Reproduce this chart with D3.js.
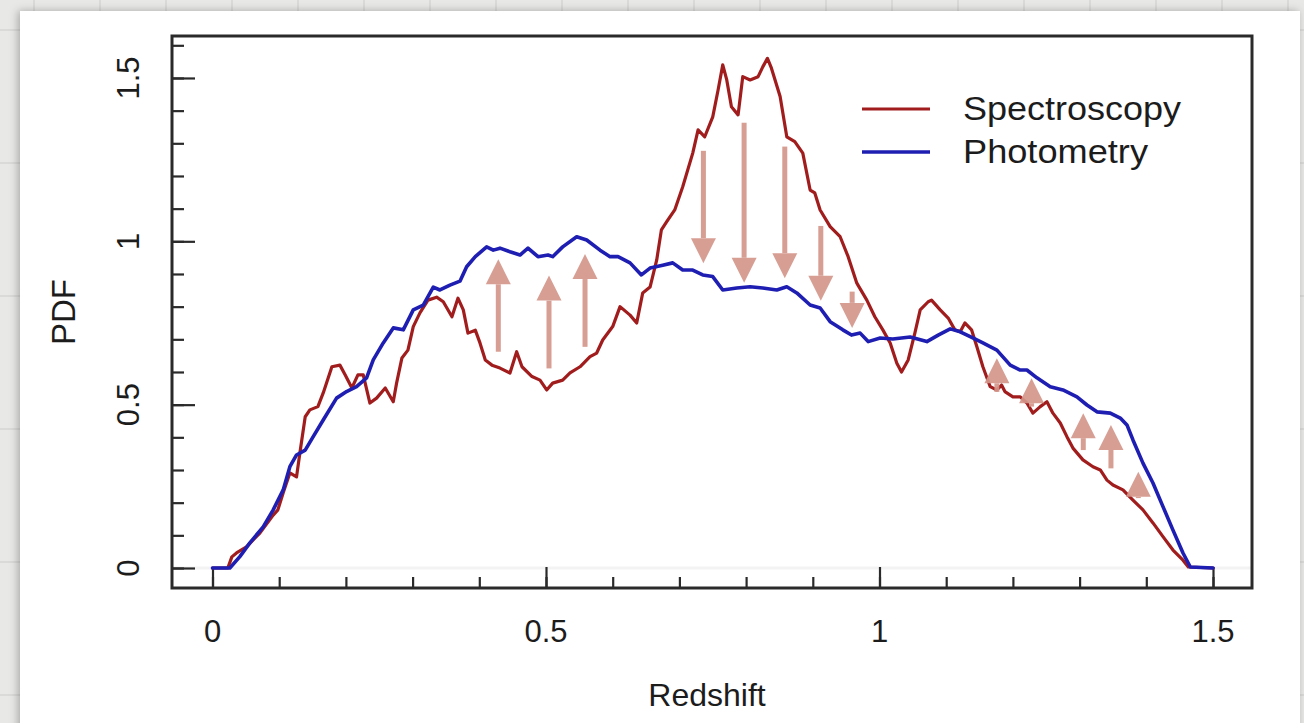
<!DOCTYPE html>
<html><head><meta charset="utf-8">
<script src="https://cdn.jsdelivr.net/npm/d3@7"></script>
<style>html,body{margin:0;padding:0;background:#e8e8e6;overflow:hidden}</style>
</head><body><svg id="c" width="1304" height="723"></svg>
<script>
// ---- data ----
const seriesNames = ["Spectroscopy", "Photometry"];
const seriesColors = ["#a11d1d", "#1e1eb2"];
const spectroscopy = [[0,0],[0.023,0],[0.029,0.034],[0.036,0.046],[0.051,0.065],[0.071,0.107],[0.091,0.162],[0.098,0.178],[0.106,0.230],[0.116,0.291],[0.126,0.279],[0.131,0.352],[0.139,0.463],[0.146,0.484],[0.158,0.494],[0.166,0.536],[0.179,0.616],[0.191,0.621],[0.199,0.591],[0.209,0.551],[0.218,0.591],[0.226,0.591],[0.236,0.505],[0.246,0.520],[0.259,0.551],[0.271,0.509],[0.276,0.566],[0.284,0.643],[0.293,0.667],[0.301,0.739],[0.311,0.781],[0.323,0.820],[0.336,0.829],[0.346,0.815],[0.359,0.769],[0.368,0.826],[0.376,0.790],[0.383,0.719],[0.394,0.728],[0.401,0.689],[0.409,0.637],[0.419,0.621],[0.431,0.612],[0.446,0.597],[0.456,0.662],[0.464,0.616],[0.479,0.586],[0.491,0.575],[0.501,0.545],[0.510,0.566],[0.525,0.575],[0.536,0.597],[0.551,0.616],[0.566,0.647],[0.576,0.658],[0.585,0.698],[0.600,0.739],[0.611,0.800],[0.626,0.774],[0.636,0.750],[0.645,0.842],[0.656,0.860],[0.666,0.943],[0.673,1.035],[0.681,1.060],[0.693,1.096],[0.705,1.167],[0.720,1.270],[0.728,1.341],[0.738,1.320],[0.750,1.381],[0.758,1.463],[0.765,1.540],[0.771,1.494],[0.778,1.412],[0.788,1.387],[0.795,1.504],[0.806,1.494],[0.818,1.504],[0.825,1.534],[0.832,1.560],[0.838,1.530],[0.851,1.443],[0.861,1.320],[0.873,1.305],[0.885,1.270],[0.896,1.157],[0.903,1.148],[0.911,1.096],[0.926,1.045],[0.941,1.014],[0.953,0.953],[0.966,0.872],[0.981,0.820],[0.993,0.769],[1.005,0.729],[1.016,0.689],[1.026,0.627],[1.033,0.600],[1.043,0.637],[1.053,0.719],[1.061,0.790],[1.073,0.815],[1.078,0.820],[1.091,0.790],[1.103,0.765],[1.113,0.729],[1.121,0.723],[1.128,0.750],[1.138,0.729],[1.146,0.677],[1.155,0.616],[1.166,0.555],[1.176,0.545],[1.183,0.560],[1.188,0.540],[1.200,0.524],[1.211,0.524],[1.221,0.505],[1.230,0.474],[1.241,0.494],[1.251,0.509],[1.260,0.474],[1.271,0.444],[1.281,0.402],[1.290,0.367],[1.305,0.331],[1.320,0.310],[1.331,0.300],[1.341,0.269],[1.350,0.254],[1.365,0.239],[1.380,0.208],[1.395,0.178],[1.410,0.138],[1.425,0.096],[1.440,0.055],[1.455,0.024],[1.463,0.003],[1.500,0]];
const photometry = [[0,0],[0.026,0],[0.041,0.035],[0.056,0.077],[0.076,0.126],[0.091,0.178],[0.106,0.239],[0.116,0.310],[0.126,0.346],[0.139,0.361],[0.151,0.402],[0.166,0.453],[0.186,0.520],[0.201,0.540],[0.216,0.555],[0.231,0.582],[0.241,0.637],[0.256,0.689],[0.271,0.735],[0.286,0.729],[0.301,0.790],[0.316,0.805],[0.331,0.860],[0.341,0.851],[0.356,0.866],[0.371,0.878],[0.381,0.922],[0.394,0.953],[0.411,0.983],[0.421,0.973],[0.431,0.979],[0.446,0.968],[0.461,0.958],[0.473,0.979],[0.488,0.953],[0.503,0.958],[0.510,0.953],[0.525,0.983],[0.546,1.014],[0.561,1.004],[0.581,0.973],[0.596,0.953],[0.608,0.953],[0.626,0.934],[0.643,0.897],[0.656,0.918],[0.675,0.927],[0.690,0.934],[0.705,0.912],[0.720,0.912],[0.735,0.897],[0.750,0.892],[0.765,0.851],[0.786,0.857],[0.806,0.861],[0.825,0.857],[0.846,0.851],[0.861,0.861],[0.876,0.842],[0.896,0.805],[0.911,0.796],[0.926,0.754],[0.945,0.729],[0.958,0.713],[0.971,0.719],[0.983,0.693],[1.001,0.704],[1.020,0.701],[1.046,0.707],[1.071,0.693],[1.088,0.713],[1.106,0.732],[1.121,0.723],[1.136,0.708],[1.155,0.689],[1.176,0.667],[1.196,0.621],[1.211,0.606],[1.221,0.606],[1.236,0.582],[1.256,0.555],[1.275,0.545],[1.296,0.524],[1.311,0.499],[1.326,0.478],[1.346,0.474],[1.361,0.459],[1.371,0.438],[1.380,0.392],[1.395,0.321],[1.410,0.260],[1.425,0.188],[1.440,0.116],[1.455,0.046],[1.466,0.003],[1.500,0]];
// annotation arrows: redshift, start PDF, end PDF
const arrowZ    = [0.4285, 0.5045, 0.5585, 0.736, 0.797, 0.858, 0.912, 0.959, 1.176, 1.228, 1.3055, 1.347, 1.388];
const arrowFrom = [0.662, 0.611, 0.677, 1.277, 1.363, 1.290, 1.047, 0.846, 0.539, 0.494, 0.361, 0.305, 0.214];
const arrowTo   = [0.945, 0.895, 0.961, 0.933, 0.873, 0.887, 0.818, 0.735, 0.642, 0.581, 0.474, 0.438, 0.295];
const xMajor = [0, 0.5, 1, 1.5];
const xMajorLabels = ["0", "0.5", "1", "1.5"];
const xMinor = [0,0.1,0.2,0.3,0.4,0.5,0.6,0.7,0.8,0.9,1.0,1.1,1.2,1.3,1.4,1.5];
const yMajor = [0, 0.5, 1, 1.5];
const yMajorLabels = ["0", "0.5", "1", "1.5"];
const yMinor = [0,0.1,0.2,0.3,0.4,0.5,0.6,0.7,0.8,0.9,1.0,1.1,1.2,1.3,1.4,1.5,1.6];

// ---- drawing ----
const svg = d3.select("#c");
const W = 1304, H = 723;
const FONT = "'Liberation Sans', Arial, Helvetica, sans-serif";
const TXT = "#1c1c1c";

// background paper grid
svg.append("rect").attr("width", W).attr("height", H).attr("fill", "#e8e8e6");
const bg = svg.append("g").attr("stroke", "#d6d6d3").attr("stroke-width", 1.5);
d3.range(34, W, 66).forEach(x => bg.append("line").attr("x1", x).attr("x2", x).attr("y1", 0).attr("y2", H));
d3.range(30, H, 133).forEach(y => bg.append("line").attr("x1", 0).attr("x2", W).attr("y1", y).attr("y2", y));

const defs = svg.append("defs");
const f = defs.append("filter").attr("id", "sh").attr("x", "-5%").attr("y", "-5%").attr("width", "110%").attr("height", "110%");
f.append("feDropShadow").attr("dx", -2).attr("dy", 0).attr("stdDeviation", 4).attr("flood-color", "#000").attr("flood-opacity", 0.28);

svg.append("rect").attr("x", 20).attr("y", 11).attr("width", 1280).attr("height", 730)
  .attr("fill", "#fff").attr("filter", "url(#sh)");

const x = d3.scaleLinear().domain([0, 1.5]).range([212.5, 1213]);
const y = d3.scaleLinear().domain([0, 1.6]).range([568, 45.3]);
const frame = {l: 172, r: 1252, t: 36, b: 588};

// faint zero band
svg.append("line").attr("x1", frame.l).attr("x2", frame.r).attr("y1", y(0)).attr("y2", y(0))
  .attr("stroke", "#f3f3f3").attr("stroke-width", 3);

// axes (ticks inward)
function styleAxis(g) {
  g.select(".domain").remove();
  g.selectAll(".tick line").attr("stroke", "#2a2a2a").attr("stroke-width", 2.2);
}
svg.append("g").attr("transform", `translate(0,${frame.b})`)
  .call(d3.axisBottom(x).tickValues(xMinor).tickSize(-11).tickFormat("")).call(styleAxis);
svg.append("g").attr("transform", `translate(0,${frame.b})`)
  .call(d3.axisBottom(x).tickValues(xMajor).tickSize(-21).tickFormat("")).call(styleAxis);
svg.append("g").attr("transform", `translate(${frame.l},0)`)
  .call(d3.axisLeft(y).tickValues(yMinor).tickSize(-12).tickFormat("")).call(styleAxis);
svg.append("g").attr("transform", `translate(${frame.l},0)`)
  .call(d3.axisLeft(y).tickValues(yMajor).tickSize(-23).tickFormat("")).call(styleAxis);

// frame
svg.append("rect").attr("x", frame.l).attr("y", frame.t)
  .attr("width", frame.r - frame.l).attr("height", frame.b - frame.t)
  .attr("fill", "none").attr("stroke", "#2a2a2a").attr("stroke-width", 3);

// tick labels
svg.append("g").selectAll("text").data(xMajor).join("text")
  .attr("x", d => x(d)).attr("y", 642)
  .attr("text-anchor", "middle").attr("font-family", FONT).attr("font-size", 31).attr("fill", TXT)
  .text((d, i) => xMajorLabels[i]);
svg.append("g").selectAll("text").data(yMajor).join("text")
  .attr("transform", d => `translate(128,${y(d)}) rotate(-90)`)
  .attr("dy", "0.36em")
  .attr("text-anchor", "middle").attr("font-family", FONT).attr("font-size", 31).attr("fill", TXT)
  .text((d, i) => yMajorLabels[i]);

// axis titles
svg.append("text").attr("x", 707).attr("y", 706).attr("text-anchor", "middle")
  .attr("font-family", FONT).attr("font-size", 32).attr("fill", TXT).text("Redshift");
svg.append("text").attr("transform", `translate(63,${(frame.t + frame.b) / 2}) rotate(-90)`)
  .attr("dy", "0.36em").attr("text-anchor", "middle")
  .attr("font-family", FONT).attr("font-size", 33).attr("fill", TXT).text("PDF");

// curves
const line = d3.line().x(d => x(d[0])).y(d => y(d[1]));
[spectroscopy, photometry].forEach((s, i) => {
  svg.append("path").datum(s).attr("d", line).attr("fill", "none")
    .attr("stroke", seriesColors[i]).attr("stroke-width", i === 0 ? 3.2 : 3.6)
    .attr("stroke-linejoin", "round").attr("stroke-linecap", "round");
});

// arrows
const ag = svg.append("g").attr("fill", "#d4968a").attr("opacity", 0.92);
arrowZ.forEach((z, i) => {
  const ax = x(z), y0 = y(arrowFrom[i]), y1 = y(arrowTo[i]);
  const dir = Math.sign(y1 - y0);
  const hl = 25, hw = 12.5, sw = 5;
  const yb = y1 - dir * hl;
  ag.append("rect").attr("x", ax - sw / 2).attr("width", sw)
    .attr("y", Math.min(y0, yb)).attr("height", Math.abs(yb - y0));
  ag.append("path").attr("d", `M${ax - hw},${yb}L${ax + hw},${yb}L${ax},${y1}Z`);
});

// legend
const legY = [109, 152];
const legBase = [120, 163];
const legLen = [218, 185];
seriesNames.forEach((n, i) => {
  svg.append("line").attr("x1", 862).attr("x2", 930).attr("y1", legY[i]).attr("y2", legY[i])
    .attr("stroke", seriesColors[i]).attr("stroke-width", i === 0 ? 3.2 : 3.6);
  svg.append("text").attr("x", 963).attr("y", legBase[i])
    .attr("font-family", FONT).attr("font-size", 33).attr("fill", TXT)
    .attr("textLength", legLen[i]).attr("lengthAdjust", "spacingAndGlyphs").text(n);
});
</script>
</body></html>
